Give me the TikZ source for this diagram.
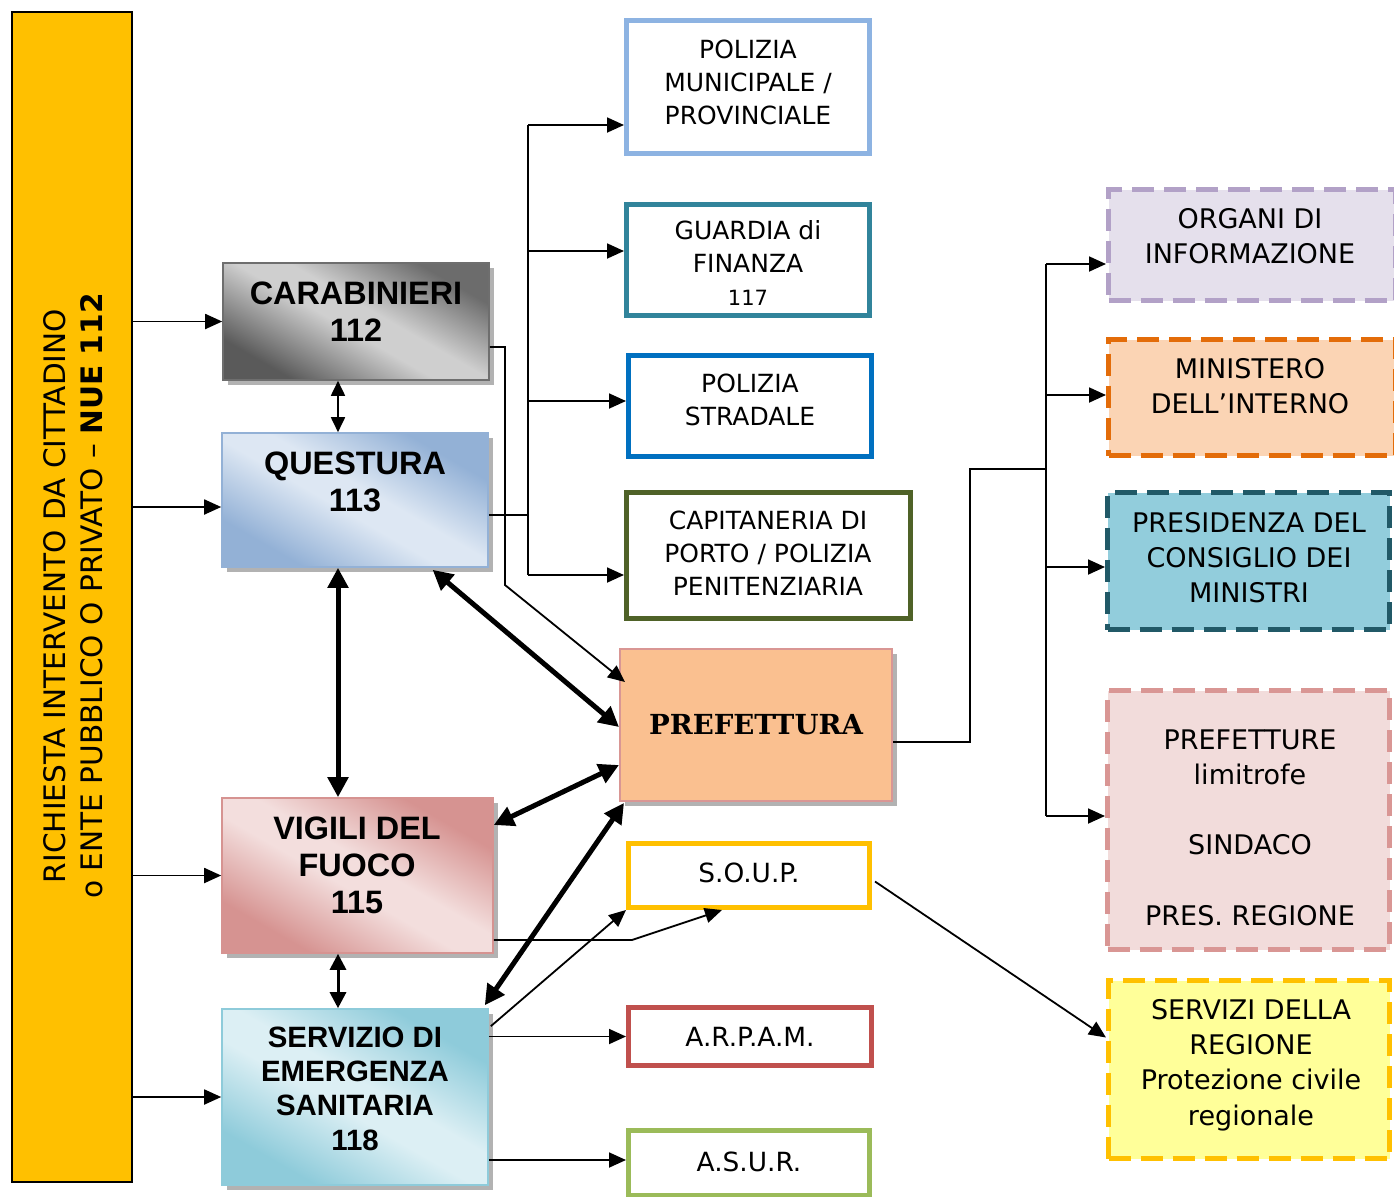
\documentclass[tikz,border=0pt]{standalone}
\usepackage{fontspec}
\newfontfamily\tah{DejaVu Sans}
\newfontfamily\arl{Liberation Sans}
\newfontfamily\dser{DejaVu Serif}
\usetikzlibrary{arrows.meta,shadows,calc}
\definecolor{nueY}{HTML}{FFC000}
\definecolor{caraDark}{HTML}{5A5A5A}
\definecolor{caraLight}{HTML}{CFCFCF}
\definecolor{caraBorder}{HTML}{6E6E6E}
\definecolor{questDark}{HTML}{93B1D6}
\definecolor{questLight}{HTML}{DDE7F3}
\definecolor{vigDark}{HTML}{D69391}
\definecolor{vigLight}{HTML}{F3DEDD}
\definecolor{serDark}{HTML}{8ECBDA}
\definecolor{serLight}{HTML}{DCEFF4}
\pgfdeclarehorizontalshading{caraSh}{100bp}{color(0bp)=(caraDark); color(26bp)=(caraDark); color(47bp)=(caraLight); color(55bp)=(caraLight); color(74bp)=(caraDark!85!caraLight); color(100bp)=(caraDark!85!caraLight)}
\pgfdeclarehorizontalshading{questSh}{100bp}{color(0bp)=(questDark); color(27bp)=(questDark); color(46bp)=(questLight); color(54bp)=(questLight); color(73bp)=(questDark); color(100bp)=(questDark)}
\pgfdeclarehorizontalshading{vigSh}{100bp}{color(0bp)=(vigDark); color(27bp)=(vigDark); color(46bp)=(vigLight); color(54bp)=(vigLight); color(73bp)=(vigDark); color(100bp)=(vigDark)}
\pgfdeclarehorizontalshading{serSh}{100bp}{color(0bp)=(serDark); color(27bp)=(serDark); color(46bp)=(serLight); color(54bp)=(serLight); color(73bp)=(serDark); color(100bp)=(serDark)}
\definecolor{pmC}{HTML}{8DB3E2}
\definecolor{gdfC}{HTML}{31849B}
\definecolor{psC}{HTML}{0070C0}
\definecolor{capC}{HTML}{4F6228}
\definecolor{soupC}{HTML}{FFC000}
\definecolor{arpamC}{HTML}{C0504D}
\definecolor{asurC}{HTML}{9BBB59}
\definecolor{prefFill}{HTML}{FAC090}
\definecolor{prefBorder}{HTML}{D99694}
\definecolor{orgFill}{HTML}{E5E0EC}
\definecolor{orgC}{HTML}{B2A1C7}
\definecolor{minFill}{HTML}{FBD4B4}
\definecolor{minC}{HTML}{E36C09}
\definecolor{presFill}{HTML}{92CDDC}
\definecolor{presC}{HTML}{215967}
\definecolor{plFill}{HTML}{F2DCDB}
\definecolor{plC}{HTML}{D99694}
\definecolor{srFill}{HTML}{FFFF99}
\definecolor{srC}{HTML}{FFC000}
\begin{document}
\begin{tikzpicture}[x=0.5pt,y=-0.5pt,
  mbox/.style={draw, line width=2.5pt, fill=white, inner sep=0pt},
  rbox/.style={draw, line width=2.5pt, dash pattern=on 11pt off 5pt, inner sep=0pt},
  gbox/.style={draw=#1, line width=0.8pt, inner sep=0pt, shading angle=60,
    drop shadow={shadow xshift=2.5pt,shadow yshift=-2.5pt,fill=black,opacity=0.3}},
  mtxt/.style={font=\tah\fontsize{12.5}{16.5}\selectfont, align=center, inner sep=0pt},
  stxt/.style={font=\tah\fontsize{13.2}{16.5}\selectfont, align=center, inner sep=0pt},
  rtxt/.style={font=\tah\fontsize{13.5}{17.6}\selectfont, align=center, inner sep=0pt},
  btxt/.style={font=\arl\bfseries\fontsize{16.2}{18.5}\selectfont, align=center, inner sep=0pt},
  arr/.style={-{Triangle[length=8.5pt,width=7.5pt]}, line width=0.9pt},
  darr/.style={{Triangle[length=7.5pt,width=7pt]}-{Triangle[length=7.5pt,width=7pt]}, line width=0.9pt},
  mdarr/.style={{Triangle[length=8pt,width=8pt]}-{Triangle[length=8pt,width=8pt]}, line width=1.5pt},
  tharr/.style={{Triangle[length=10pt,width=10pt]}-{Triangle[length=10pt,width=10pt]}, line width=2.5pt}
]
\useasboundingbox (0,0) rectangle (1394,1196);

% left yellow box
\node[draw=black, line width=0.6pt, fill=nueY, minimum width=60pt, minimum height=585pt, inner sep=0pt] (nue) at (72,597) {};
\node[rotate=90, font=\tah\fontsize{14.8}{18.5}\selectfont, align=center, inner sep=0pt] (nue-t) at (73,596)
  {RICHIESTA INTERVENTO DA CITTADINO\\o ENTE PUBBLICO O PRIVATO – \textbf{NUE 112}};

% gradient boxes
\node[gbox=caraBorder, shading=caraSh, minimum width=133pt, minimum height=58.5pt] (cara) at (356,321.5) {};
\node[btxt] (cara-t) at (356,311.5) {CARABINIERI\\112};
\node[gbox=questDark, shading=questSh, minimum width=133pt, minimum height=67pt] (quest) at (355,500) {};
\node[btxt] (quest-t) at (355,481.5) {QUESTURA\\113};
\node[gbox=vigDark, shading=vigSh, minimum width=135.5pt, minimum height=77.5pt] (vig) at (357.5,875.5) {};
\node[btxt] (vig-t) at (357,865) {VIGILI DEL\\FUOCO\\115};
\node[gbox=serDark, shading=serSh, minimum width=133pt, minimum height=88pt] (ser) at (355,1097) {};
\node[btxt, font=\arl\bfseries\fontsize{14.7}{17.2}\selectfont] (ser-t) at (355,1088.5) {SERVIZIO DI\\EMERGENZA\\SANITARIA\\118};

% middle column
\node[mbox, draw=pmC, minimum width=121.5pt, minimum height=66.5pt] (pm) at (748,87) {};
\node[mtxt] (pm-t) at (748,82.5) {POLIZIA\\MUNICIPALE /\\PROVINCIALE};
\node[mbox, draw=gdfC, minimum width=121.5pt, minimum height=55.5pt] (gdf) at (748,260) {};
\node[mtxt] (gdf-t) at (748,263) {GUARDIA di\\FINANZA\\{\fontsize{10.5}{14}\selectfont 117}};
\node[mbox, draw=psC, minimum width=121.5pt, minimum height=50.5pt] (ps) at (750,406) {};
\node[mtxt] (ps-t) at (750,400) {POLIZIA\\STRADALE};
\node[mbox, draw=capC, minimum width=142pt, minimum height=63pt] (cap) at (768.5,555.5) {};
\node[mtxt] (cap-t) at (768,553) {CAPITANERIA DI\\PORTO / POLIZIA\\PENITENZIARIA};
\node[draw=prefBorder, line width=1pt, fill=prefFill, inner sep=0pt, minimum width=136pt, minimum height=76pt,
  drop shadow={shadow xshift=2.5pt,shadow yshift=-2.5pt,fill=black,opacity=0.3}] (pref) at (756,725) {};
\node[font=\dser\bfseries\fontsize{13.8}{16}\selectfont, inner sep=0pt] (pref-t) at (756,725) {PREFETTURA};
\node[mbox, draw=soupC, minimum width=120.5pt, minimum height=32pt] (soup) at (749,875.5) {};
\node[stxt] (soup-t) at (749,873) {S.O.U.P.};
\node[mbox, draw=arpamC, minimum width=121.5pt, minimum height=29pt] (arpam) at (750,1036.5) {};
\node[stxt] (arpam-t) at (750,1037) {A.R.P.A.M.};
\node[mbox, draw=asurC, minimum width=120.5pt, minimum height=32.5pt] (asur) at (749,1163) {};
\node[stxt] (asur-t) at (749,1162) {A.S.U.R.};

% right column
\node[rbox, draw=orgC, fill=orgFill, minimum width=143.5pt, minimum height=55.5pt] (org) at (1252,245) {};
\node[rtxt] (org-t) at (1250,236.5) {ORGANI DI\\INFORMAZIONE};
\node[rbox, draw=minC, fill=minFill, minimum width=143.5pt, minimum height=58pt] (min) at (1252,397.5) {};
\node[rtxt] (min-t) at (1250,386.5) {MINISTERO\\DELL’INTERNO};
\node[rbox, draw=presC, fill=presFill, minimum width=141pt, minimum height=68.5pt] (pres) at (1248.5,561) {};
\node[rtxt] (pres-t) at (1249,557.5) {PRESIDENZA DEL\\CONSIGLIO DEI\\MINISTRI};
\node[rbox, draw=plC, fill=plFill, minimum width=141pt, minimum height=129.5pt] (pl) at (1248.5,820) {};
\node[rtxt] (pl-t) at (1250,827.5) {PREFETTURE\\limitrofe\\[17.6pt]SINDACO\\[17.6pt]PRES. REGIONE};
\node[rbox, draw=srC, fill=srFill, minimum width=140.5pt, minimum height=89pt] (sr) at (1249,1069.5) {};
\node[rtxt] (sr-t) at (1251,1065) {SERVIZI DELLA\\REGIONE\\Protezione civile\\regionale};

% coordinates
\coordinate (vx) at (338,0);
\coordinate (yq) at (0,507);
\coordinate (qj) at (528,515);
\coordinate (b1) at (528,125);
\coordinate (b2) at (528,251);
\coordinate (b3) at (528,401);
\coordinate (b4) at (528,575);
\coordinate (k1) at (505,347);
\coordinate (k2) at (505,585);
\coordinate (k3) at (0,682);
\coordinate (p1) at (0,727);
\coordinate (v1) at (0,825);
\coordinate (v2) at (0,765);
\coordinate (s1) at (0,940);
\coordinate (s2) at (632,940);
\coordinate (s3) at (722,0);
\coordinate (a1) at (0,1160);
\coordinate (r1) at (970,742);
\coordinate (r2) at (970,469);
\coordinate (r3) at (1046,469);
\coordinate (rb1) at (1046,264);
\coordinate (rb2) at (1046,395);
\coordinate (rb3) at (1046,567);
\coordinate (rb4) at (1046,816);

% from NUE
\draw[arr] (nue.east |- cara.west) -- (cara.west);
\draw[arr] (nue.east |- yq) -- (quest.west |- yq);
\draw[arr] (nue.east |- vig.west) -- (vig.west);
\draw[arr] (nue.east |- ser.west) -- (ser.west);

% vertical links
\draw[darr] (cara.south -| vx) -- (quest.north -| vx);
\draw[tharr] (quest.south -| vx) -- (vig.north -| vx);
\draw[mdarr] (vig.south -| vx) -- (ser.north -| vx);

% thick links to prefettura
\draw[tharr] ($(quest.south west)!0.79!(quest.south east)+(0,2)$) -- (pref.west |- p1);
\draw[tharr] (vig.east |- v1) -- (pref.west |- v2);
\draw[tharr] ($(ser.north east)+(-4,-3)$) -- ($(pref.south west)+(5,1)$);

% carabinieri -> prefettura
\draw[arr] (cara.east |- k1) -- (k1) -- (k2) -- ($(pref.west |- k3)+(6,0)$);

% questura -> forces bus
\draw[line width=0.9pt] (quest.east |- qj) -- (qj);
\draw[line width=0.9pt] (b1) -- (b4);
\draw[arr] (b1) -- (pm.west |- b1);
\draw[arr] (b2) -- (gdf.west |- b2);
\draw[arr] (b3) -- (ps.west |- b3);
\draw[arr] (b4) -- (cap.west |- b4);

% S.O.U.P. links
\draw[arr] (vig.east |- s1) -- (s2) -- (soup.south -| s3);
\draw[arr] ($(ser.north east)+(2,18)$) -- (soup.south west);
\draw[arr] (ser.east |- arpam.west) -- (arpam.west);
\draw[arr] (ser.east |- a1) -- (asur.west |- a1);
\draw[arr] ($(soup.east)+(3,6)$) -- ($(sr.west)+(0,-32)$);

% prefettura -> right bus
\draw[line width=0.9pt] (pref.east |- r1) -- (r1) -- (r2) -- (r3);
\draw[line width=0.9pt] (rb1) -- (rb4);
\draw[arr] (rb1) -- (org.west |- rb1);
\draw[arr] (rb2) -- (min.west |- rb2);
\draw[arr] (rb3) -- (pres.west |- rb3);
\draw[arr] (rb4) -- (pl.west |- rb4);
\end{tikzpicture}
\end{document}
